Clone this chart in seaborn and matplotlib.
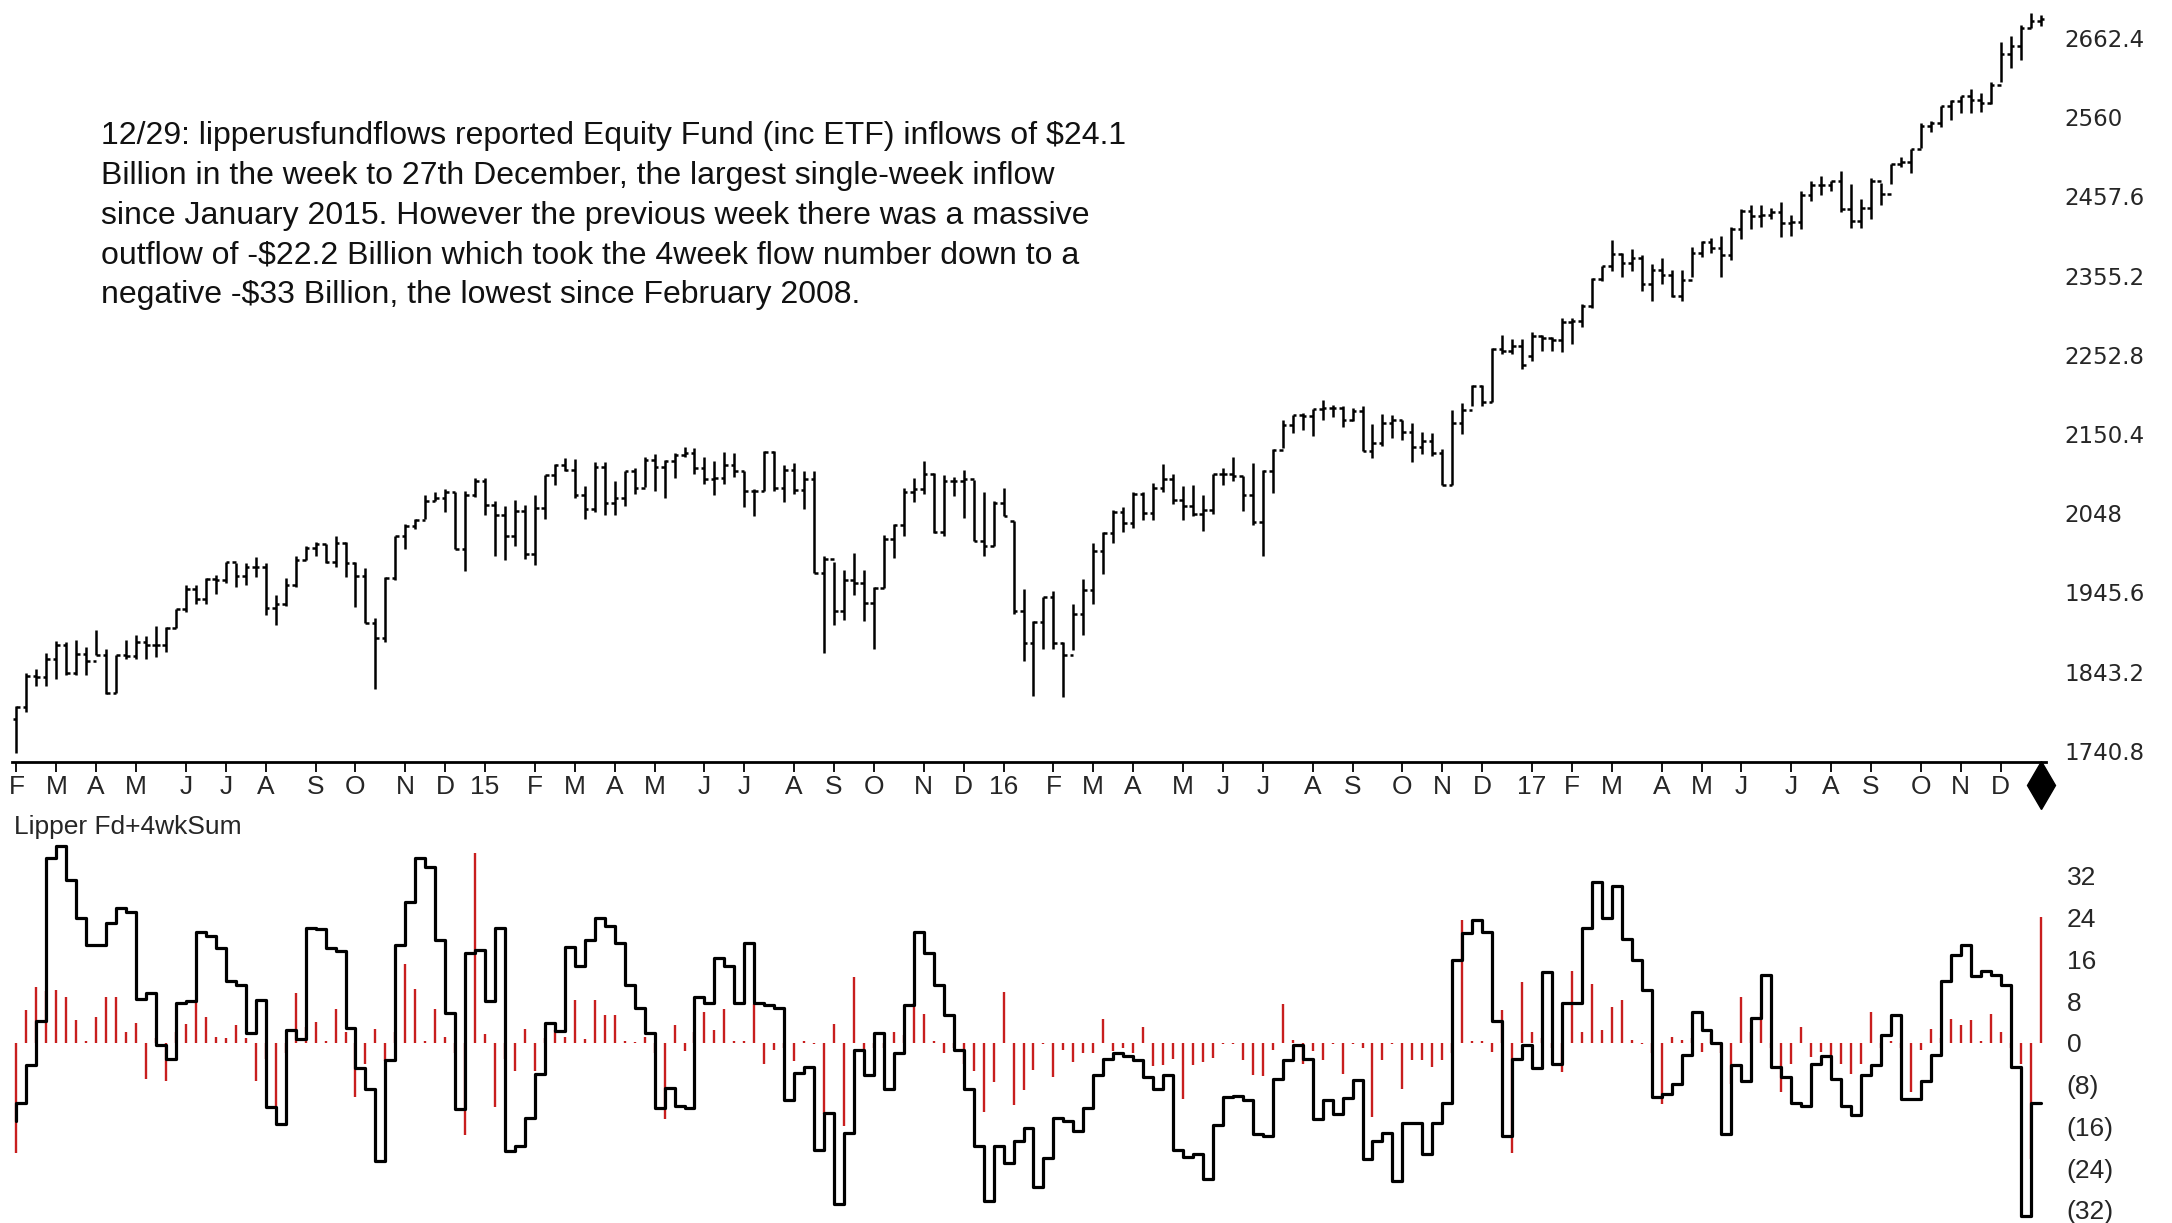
# weekly S&P bars + Lipper equity fund flows (weekly and 4wk sum)
import numpy as np
import pandas as pd
import matplotlib
matplotlib.use("Agg")
import matplotlib.pyplot as plt
import matplotlib.transforms as mtransforms
from matplotlib import font_manager
import seaborn as sns

# --- price bars, week ending Fridays from 7 Feb 2014 ---
opens = [1782, 1797, 1838, 1836, 1859, 1878, 1841, 1866, 1857, 1865, 1815, 1864, 1863, 1881, 1878, 1878, 1900, 1924, 1950, 1937,
         1963, 1961, 1985, 1967, 1978, 1978, 1925, 1931, 1955, 1988, 2003, 2008, 1985, 2010, 1983, 1967, 1906, 1887, 1964, 2018,
         2032, 2039, 2064, 2068, 2075, 2002, 2071,
         2089, 2058, 2045, 2019, 2051, 1995, 2055, 2097, 2110, 2104, 2071, 2053, 2108, 2061, 2067, 2102, 2081, 2117, 2108, 2116,
         2123, 2126, 2107, 2092, 2094, 2110, 2102, 2077, 2077, 2127, 2080, 2104, 2078, 2092, 1971, 1989, 1921, 1961, 1958, 1932,
         1951, 2015, 2033, 2075, 2079, 2099, 2023, 2089, 2090, 2092, 2012, 2006, 2061,
         2038, 1922, 1880, 1907, 1940, 1880, 1865, 1918, 1948, 1999, 2022, 2050, 2035, 2073, 2048, 2081, 2092, 2065, 2057, 2047,
         2052, 2099, 2099, 2096, 2071, 2037, 2103, 2130, 2162, 2175, 2174, 2183, 2184, 2184, 2169, 2180, 2128, 2139, 2165, 2168,
         2153, 2133, 2141, 2126, 2085, 2164, 2182, 2213, 2192, 2260, 2258, 2264,
         2251, 2277, 2275, 2272, 2295, 2297, 2316, 2351, 2368, 2383, 2372, 2378, 2344, 2363, 2356, 2329, 2349, 2384, 2399, 2391,
         2382, 2416, 2439, 2432, 2433, 2438, 2423, 2425, 2459, 2473, 2472, 2477, 2441, 2426, 2443, 2477, 2461, 2500, 2502, 2519,
         2549, 2553, 2575, 2581, 2588, 2582, 2579, 2602, 2642, 2652, 2676, 2684]
highs = [1798, 1841, 1847, 1867, 1883, 1882, 1884, 1875, 1897, 1872, 1865, 1884, 1891, 1889, 1902, 1901, 1924, 1955, 1955, 1964,
         1968, 1985, 1984, 1983, 1991, 1984, 1942, 1964, 1993, 2006, 2011, 2008, 2019, 2011, 1985, 1977, 1912, 1965, 2019, 2034,
         2041, 2071, 2075, 2079, 2076, 2077, 2094,
         2093, 2064, 2057, 2065, 2058, 2072, 2097, 2111, 2119, 2118, 2083, 2114, 2114, 2089, 2102, 2107, 2120, 2125, 2117, 2126,
         2134, 2132, 2121, 2115, 2127, 2126, 2102, 2079, 2129, 2129, 2110, 2113, 2103, 2102, 1993, 1985, 1975, 1996, 1974, 1952,
         2020, 2034, 2080, 2094, 2116, 2100, 2097, 2095, 2104, 2091, 2076, 2064, 2081,
         2038, 1950, 1908, 1940, 1947, 1881, 1930, 1963, 2009, 2023, 2052, 2056, 2075, 2075, 2087, 2111, 2099, 2083, 2085, 2071,
         2099, 2106, 2120, 2096, 2113, 2104, 2131, 2169, 2175, 2178, 2183, 2194, 2188, 2187, 2184, 2187, 2163, 2176, 2175, 2169,
         2164, 2153, 2152, 2131, 2182, 2190, 2214, 2214, 2261, 2278, 2273, 2273,
         2282, 2279, 2276, 2300, 2300, 2319, 2352, 2368, 2401, 2385, 2390, 2382, 2370, 2378, 2363, 2362, 2392, 2400, 2404, 2406,
         2418, 2441, 2447, 2446, 2442, 2450, 2433, 2464, 2478, 2484, 2478, 2490, 2474, 2454, 2481, 2475, 2500, 2508, 2519, 2552,
         2555, 2575, 2582, 2588, 2597, 2591, 2605, 2657, 2665, 2679, 2695, 2692]
lows = [1738, 1791, 1825, 1825, 1834, 1839, 1839, 1839, 1864, 1814, 1815, 1859, 1859, 1859, 1862, 1868, 1900, 1920, 1931, 1930,
        1944, 1958, 1952, 1955, 1965, 1916, 1904, 1928, 1953, 1988, 1993, 1983, 1978, 1965, 1926, 1906, 1821, 1882, 1962, 2001,
        2028, 2040, 2064, 2049, 2002, 1973, 2069,
        2046, 1992, 1988, 2005, 1989, 1981, 2041, 2085, 2103, 2067, 2040, 2049, 2046, 2045, 2057, 2073, 2082, 2077, 2067, 2093,
        2121, 2099, 2086, 2072, 2086, 2095, 2056, 2044, 2077, 2077, 2063, 2073, 2053, 1970, 1867, 1903, 1910, 1942, 1909, 1872,
        1951, 1990, 2019, 2063, 2073, 2022, 2019, 2070, 2042, 2012, 1993, 2005, 2044,
        1918, 1857, 1812, 1872, 1872, 1810, 1871, 1891, 1931, 1969, 2010, 2023, 2029, 2039, 2039, 2075, 2060, 2039, 2044, 2025,
        2047, 2085, 2089, 2051, 2033, 1992, 2074, 2132, 2152, 2156, 2148, 2169, 2172, 2160, 2167, 2128, 2119, 2135, 2145, 2142,
        2114, 2124, 2122, 2084, 2085, 2151, 2186, 2187, 2192, 2254, 2254, 2234,
        2245, 2258, 2258, 2257, 2267, 2289, 2313, 2348, 2361, 2354, 2361, 2335, 2322, 2344, 2328, 2323, 2353, 2379, 2384, 2353,
        2376, 2403, 2416, 2418, 2428, 2405, 2407, 2416, 2452, 2459, 2464, 2437, 2417, 2417, 2429, 2446, 2474, 2496, 2488, 2520,
        2541, 2547, 2557, 2566, 2566, 2567, 2577, 2605, 2624, 2634, 2676, 2678]
closes = [1797, 1838, 1836, 1859, 1878, 1841, 1866, 1857, 1865, 1815, 1864, 1863, 1881, 1878, 1878, 1900, 1924, 1950, 1937, 1963,
          1961, 1985, 1967, 1978, 1978, 1925, 1931, 1955, 1988, 2003, 2008, 1985, 2010, 1983, 1967, 1906, 1887, 1964, 2018, 2032,
          2039, 2064, 2068, 2075, 2002, 2071, 2089,
          2058, 2045, 2019, 2051, 1995, 2055, 2097, 2110, 2104, 2071, 2053, 2108, 2061, 2067, 2102, 2081, 2117, 2108, 2116, 2123,
          2126, 2107, 2092, 2094, 2110, 2102, 2077, 2077, 2127, 2080, 2104, 2078, 2092, 1971, 1989, 1921, 1961, 1958, 1932, 1951,
          2015, 2033, 2075, 2079, 2099, 2023, 2089, 2090, 2092, 2012, 2006, 2061, 2044,
          1922, 1880, 1907, 1940, 1880, 1865, 1918, 1948, 1999, 2022, 2050, 2035, 2073, 2048, 2081, 2092, 2065, 2057, 2047, 2052,
          2099, 2099, 2096, 2071, 2037, 2103, 2130, 2162, 2175, 2174, 2183, 2184, 2184, 2169, 2180, 2128, 2139, 2165, 2168, 2153,
          2133, 2141, 2126, 2085, 2164, 2182, 2213, 2192, 2260, 2258, 2264, 2239,
          2277, 2275, 2272, 2295, 2297, 2316, 2351, 2368, 2383, 2372, 2378, 2344, 2363, 2356, 2329, 2349, 2384, 2399, 2391, 2382,
          2416, 2439, 2432, 2433, 2438, 2423, 2425, 2459, 2473, 2472, 2477, 2441, 2426, 2443, 2477, 2461, 2500, 2502, 2519, 2549,
          2553, 2575, 2581, 2588, 2582, 2579, 2602, 2642, 2652, 2676, 2684, 2687]

# --- Lipper equity fund flows ($bn), weekly ---
flows = [-21, 6.3, 10.8, 10, 10.1, 8.8, 4.4, 0.3, 4.9, 8.8, 8.8, 2.1, 3.8, -6.9, 1, -7.3, 2, 3.7, 7.9, 5,
         1.2, 1, 3.4, 1, -7.3, -3, -12, -2, 9.6, 3, 4, 0.3, 6.4, 2, -10.4, -4, 2.6, -3.5, 2, 15.1,
         10.3, 0.3, 6.4, 1.2, -2, -17.6, 36.3, 1.8, -12.3, -3, -5.4, 2.6, -5.3, 1, 2.4, 1.2, 8.3, 0.8, 8.3, 5.4,
         5.4, 0.3, 0.2, 1.2, -2, -14.6, 3.4, -1.5, 2, 6, 2.4, 6.4, 0.3, 0.3, 7.5, -4, -1.4, -1, -3.5, 0.3,
         -0.3, -13.6, 3.6, -16, 12.7, -1.4, -1, -1, 2.1, 1.5, 7.6, 5.5, 0.3, -2, -1, -4, -5.3, -13.3, -7.5, 9.7,
         -11.8, -9, -5.1, -0.3, -6.5, -1.3, -3.7, -1.9, -2, 4.5, -1.5, -1, -1.9, 3.1, -4.5, -4.3, -3, -10.7, -4.3, -3.6,
         -2.9, -0.3, -0.3, -3.2, -6.2, -6.4, -1.3, 7.4, 0.5, -4, -1.5, -3.3, -0.3, -6, -0.3, -1, -14.2, -3.2, -0.3, -8.8,
         -3.2, -3.2, -4.6, -3.3, -2, 23.5, 0.3, 0.3, -1.7, 6.3, -21, 11.7, 2.1, 1, -1, -5.6, 13.7, 2.1, 11.3, 2.4,
         6.8, 8.3, 0.5, -0.3, -2, -11.7, 1.2, 0.5, 1, -1.7, 1.8, -2, -7.8, 8.8, 2, 5.8, -1, -9.4, -4, 3.1,
         -2.7, -1.7, -2.7, -4, -5.9, -4, 6, -1, 0.3, -1, -9.4, -1.4, 2.6, 1, 4.5, 3.5, 4.4, 0.3, 5.5, 2.1,
         -1, -4, -22.2, 24.1]

# 4 week sum ($bn)
four_wk = [-14.9, -11.5, -4.3, 4.2, 35.4, 37.8, 31.2, 23.9, 18.8, 18.8, 22.9, 25.8, 25, 8.5, 9.6, -0.4, -3, 7.7, 8.1, 21.2,
           20.5, 18.1, 11.9, 11.1, 1.9, 8.2, -12.2, -15.6, 2.4, 0.8, 22.1, 21.8, 18.1, 17.7, 2.8, -4.9, -8.8, -22.7, -3.3, 18.8,
           26.9, 35.4, 33.7, 19.7, 5.8, -12.6, 17.2, 17.8, 8.1, 22.1, -20.8, -19.7, -14.4, -5.9, 3.8, 2.3, 18.3, 14.7, 19.7, 23.9,
           22.3, 19.2, 11.1, 6.6, 1.9, -12.4, -8.6, -12, -12.4, 8.8, 7.7, 16.3, 14.7, 7.6, 19.1, 7.7, 7.2, 6.6, -11, -5.8,
           -4.7, -20.6, -13.5, -30.9, -17.3, -1.4, -6.2, 1.9, -8.8, -2, 7.2, 21.2, 17.3, 11.1, 5.3, -1.4, -8.8, -19.7, -30.3, -19.7,
           -23.1, -18.8, -16.3, -27.6, -22.1, -14.4, -15, -16.9, -12.4, -6.2, -3, -1.9, -2.6, -3.2, -6.5, -8.8, -6.2, -20.6, -21.8, -21.2,
           -26.1, -15.8, -10.4, -10.1, -10.9, -17.4, -17.8, -6.9, -3.2, -0.4, -3, -14.6, -11, -13.6, -10.5, -7.2, -22.2, -18.7, -17.3, -26.4,
           -15.4, -15.4, -21.2, -15.4, -11.5, 15.9, 21, 23.5, 21.2, 4.2, -17.8, -3, -0.4, -4.9, 13.5, -4, 7.7, 7.7, 22.1, 30.8,
           23.9, 30.1, 19.9, 15.9, 10.1, -10.3, -9.7, -7.8, -2.4, 6, 2.4, -0.1, -17.4, -4.3, -7.3, 4.7, 13, -4.6, -6.5, -11.5,
           -12, -4, -2.6, -6.9, -12, -13.9, -6.2, -4.3, 1.5, 5.3, -10.7, -10.7, -7.3, -2.4, 11.9, 16.9, 18.8, 12.8, 13.8, 13,
           11.1, -4.7, -33.1, -11.5]

price_ticks = [1740.8, 1843.2, 1945.6, 2048, 2150.4, 2252.8, 2355.2, 2457.6, 2560, 2662.4]
flow_ticks = [-32, -24, -16, -8, 0, 8, 16, 24, 32]
note_lines = [
    "12/29: lipperusfundflows reported Equity Fund (inc ETF) inflows of $24.1",
    "Billion in the week to 27th December, the largest single-week inflow",
    "since January 2015. However the previous week there was a massive",
    "outflow of -$22.2 Billion which took the 4week flow number down to a",
    "negative -$33 Billion, the lowest since February 2008.",
]

sns.set_style("white")
names = {f.name for f in font_manager.fontManager.ttflist}
narrow = "Liberation Sans Narrow" if "Liberation Sans Narrow" in names else "Liberation Sans"
plt.rcParams["font.family"] = ["Liberation Sans", "DejaVu Sans"]

df = pd.DataFrame({"open": opens, "high": highs, "low": lows, "close": closes,
                   "flow": flows, "sum4": four_wk})
df["date"] = pd.date_range("2014-02-07", periods=len(df), freq="W-FRI")
df["wk"] = np.arange(len(df))

W, H = 2172, 1223
fig = plt.figure(figsize=(W / 100, H / 100), dpi=100)
fig.patch.set_facecolor("white")
ax = fig.add_axes([12 / W, 1 - 762 / H, 2034 / W, 762 / H])
axb = fig.add_axes([12 / W, 0, 2034 / W, 403 / H])

xlim = (-0.45, 203.55)

# price bars
ax.vlines(df["wk"], df["low"], df["high"], color="black", lw=1.8)
ax.hlines(df["open"], df["wk"] - 0.36, df["wk"], color="black", lw=1.8)
ax.hlines(df["close"], df["wk"], df["wk"] + 0.36, color="black", lw=1.8)
ax.set_xlim(*xlim)
ax.set_ylim(1726.2, 2711.6)
for s in ["top", "left", "right"]:
    ax.spines[s].set_visible(False)
ax.spines["bottom"].set_linewidth(2)
ax.spines["bottom"].set_color("black")

# month ticks at first week of each month
m = df["date"].dt.month
first = df.index[(m != m.shift(1))]
labels = [("%02d" % (df["date"][i].year % 100)) if df["date"][i].month == 1 else "JFMAMJJASOND"[df["date"][i].month - 1]
          for i in first]
ax.set_xticks(first)
ax.set_xticklabels(labels, family=[narrow, "DejaVu Sans"], fontsize=19)
ax.tick_params(axis="x", direction="out", length=7, width=1.3, color="black", pad=2, bottom=True)

ax.yaxis.tick_right()
ax.set_yticks(price_ticks)
ax.set_yticklabels([("%.1f" % v).rstrip("0").rstrip(".") for v in price_ticks],
                   family="DejaVu Sans", fontsize=16.5)
ax.tick_params(axis="y", length=0, pad=13)

# end marker under the last bar
trans = mtransforms.blended_transform_factory(ax.transData, ax.transAxes)
ax.plot([df["wk"].iloc[-1]], [-0.030], marker="d", markersize=24, color="black",
        transform=trans, clip_on=False)

for i, line in enumerate(note_lines):
    fig.text(101 / W, 1 - (136 + 39.8 * i) / H, line.replace("$", r"\$"), fontsize=23,
             family=[narrow, "DejaVu Sans"], va="center", ha="left", color="#111111")

# flows panel
axb.vlines(df["wk"], 0, df["flow"], color="#c81e1e", lw=1.7, zorder=1)
sns.lineplot(data=df, x="wk", y="sum4", drawstyle="steps-pre", color="black", lw=2.3,
             estimator=None, ax=axb, zorder=2)
axb.set_xlim(*xlim)
axb.set_ylim(-34.5, 42.7)
for s in axb.spines.values():
    s.set_visible(False)
axb.set_xticks([])
axb.set_xlabel("")
axb.set_ylabel("")
axb.yaxis.tick_right()
axb.set_yticks(flow_ticks)
axb.set_yticklabels([("(%d)" % -v) if v < 0 else str(v) for v in flow_ticks],
                    family=[narrow, "DejaVu Sans"], fontsize=19)
axb.tick_params(axis="y", length=0, pad=15)
fig.text(14 / W, 1 - 827 / H, "Lipper Fd+4wkSum", fontsize=19, family=[narrow, "DejaVu Sans"],
         va="center", ha="left")

fig.savefig("out.png", dpi=100, facecolor="white")
